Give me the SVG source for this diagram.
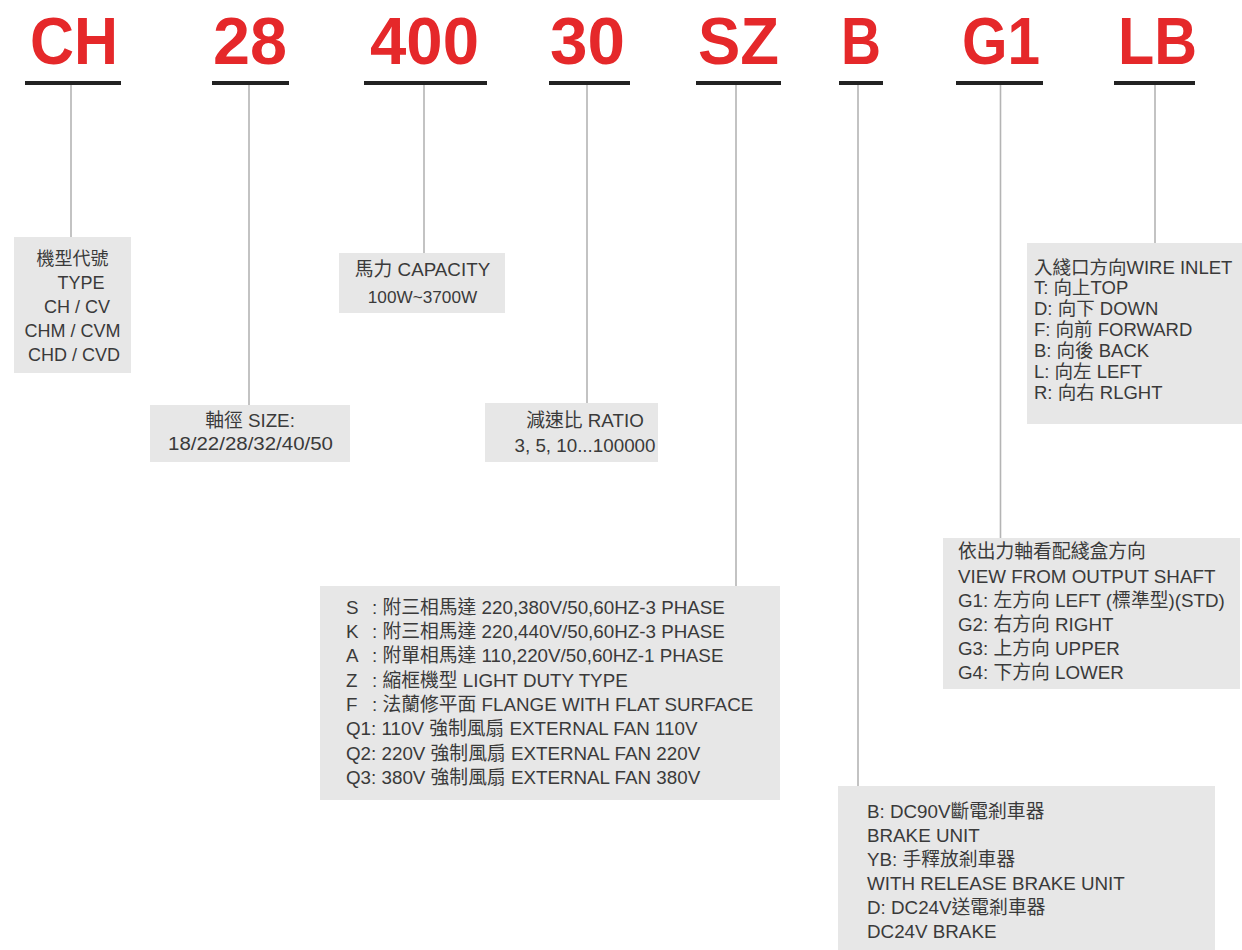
<svg xmlns="http://www.w3.org/2000/svg" width="1242" height="950" viewBox="0 0 1242 950">
<style>
.code{font-family:"Liberation Sans",Arial,sans-serif;font-weight:bold;font-size:67px;fill:#e5282a;text-anchor:middle}
.ul{stroke:#222;stroke-width:4}
.conn line{stroke:#b4b4b4;stroke-width:1.6}
.box{fill:#e7e7e7}
.t{font-family:"Liberation Sans",Arial,"Noto Sans CJK TC",sans-serif;font-size:18.8px;fill:#3a3a3a}
.s18{font-size:18px}
.s185{font-size:18.5px}
.c{text-anchor:middle}
</style>
<rect width="1242" height="950" fill="#fff"/>
<g id="header">
<text class="code" x="74" y="64" textLength="88" lengthAdjust="spacingAndGlyphs">CH</text>
<text class="code" x="250" y="64" textLength="74" lengthAdjust="spacingAndGlyphs">28</text>
<text class="code" x="424.5" y="64" textLength="109" lengthAdjust="spacingAndGlyphs">400</text>
<text class="code" x="587.5" y="64" textLength="75" lengthAdjust="spacingAndGlyphs">30</text>
<text class="code" x="738.5" y="64" textLength="81" lengthAdjust="spacingAndGlyphs">SZ</text>
<text class="code" x="861" y="64" textLength="40" lengthAdjust="spacingAndGlyphs">B</text>
<text class="code" x="1001" y="64" textLength="78" lengthAdjust="spacingAndGlyphs">G1</text>
<text class="code" x="1157.5" y="64" textLength="79" lengthAdjust="spacingAndGlyphs">LB</text>
<line class="ul" x1="25" y1="83" x2="121" y2="83"/>
<line class="ul" x1="212" y1="83" x2="289" y2="83"/>
<line class="ul" x1="364" y1="83" x2="487" y2="83"/>
<line class="ul" x1="549" y1="83" x2="630" y2="83"/>
<line class="ul" x1="696" y1="83" x2="781" y2="83"/>
<line class="ul" x1="839" y1="83" x2="883" y2="83"/>
<line class="ul" x1="956" y1="83" x2="1043" y2="83"/>
<line class="ul" x1="1114" y1="83" x2="1195" y2="83"/>
</g>
<g id="connectors" class="conn">
<line x1="71" y1="85" x2="71" y2="237"/>
<line x1="249" y1="85" x2="249" y2="405"/>
<line x1="424" y1="85" x2="424" y2="253"/>
<line x1="587" y1="85" x2="587" y2="403"/>
<line x1="736" y1="85" x2="736" y2="586"/>
<line x1="858" y1="85" x2="858" y2="786"/>
<line x1="1000.5" y1="85" x2="1000.5" y2="538"/>
<line x1="1155" y1="85" x2="1155" y2="243"/>
</g>
<g id="type">
<rect class="box" x="14" y="237" width="117" height="136"/>
<text class="t s18 c" x="72.5" y="265">機型代號</text>
<text class="t s18 c" x="81" y="289">TYPE</text>
<text class="t s18 c" x="77" y="313">CH / CV</text>
<text class="t s18 c" x="72.5" y="337">CHM / CVM</text>
<text class="t s18 c" x="74" y="361">CHD / CVD</text>
</g>
<g id="size">
<rect class="box" x="150" y="405" width="200" height="57"/>
<text class="t c" x="250" y="427">軸徑 SIZE:</text>
<text class="t c" x="250.5" y="450" textLength="165" lengthAdjust="spacingAndGlyphs">18/22/28/32/40/50</text>
</g>
<g id="capacity">
<rect class="box" x="339" y="253" width="166" height="60"/>
<text class="t c" x="422.5" y="276">馬力 CAPACITY</text>
<text class="t c" x="422.5" y="303" style="font-size:17.2px">100W~3700W</text>
</g>
<g id="ratio">
<rect class="box" x="485" y="403" width="173" height="59"/>
<text class="t c" x="585" y="427">減速比 RATIO</text>
<text class="t c" x="585" y="452">3, 5, 10...100000</text>
</g>
<g id="motor">
<rect class="box" x="320" y="586" width="460" height="214"/>
<text class="t" x="346" y="614">S</text><text class="t" x="372" y="614">: 附三相馬達 220,380V/50,60HZ-3 PHASE</text>
<text class="t" x="346" y="638">K</text><text class="t" x="372" y="638">: 附三相馬達 220,440V/50,60HZ-3 PHASE</text>
<text class="t" x="346" y="662">A</text><text class="t" x="372" y="662">: 附單相馬達 110,220V/50,60HZ-1 PHASE</text>
<text class="t" x="346" y="687">Z</text><text class="t" x="372" y="687">: 縮框機型 LIGHT DUTY TYPE</text>
<text class="t" x="346" y="711">F</text><text class="t" x="372" y="711">: 法蘭修平面 FLANGE WITH FLAT SURFACE</text>
<text class="t" x="346" y="735">Q1: 110V 強制風扇 EXTERNAL FAN 110V</text>
<text class="t" x="346" y="760">Q2: 220V 強制風扇 EXTERNAL FAN 220V</text>
<text class="t" x="346" y="784">Q3: 380V 強制風扇 EXTERNAL FAN 380V</text>
</g>
<g id="brake">
<rect class="box" x="838" y="786" width="377" height="164"/>
<text class="t" x="867" y="818">B: DC90V斷電剎車器</text>
<text class="t" x="867" y="842">BRAKE UNIT</text>
<text class="t" x="867" y="866">YB: 手釋放剎車器</text>
<text class="t" x="867" y="890">WITH RELEASE BRAKE UNIT</text>
<text class="t" x="867" y="914">D: DC24V送電剎車器</text>
<text class="t" x="867" y="938">DC24V BRAKE</text>
</g>
<g id="gearbox">
<rect class="box" x="943" y="538" width="297" height="151"/>
<text class="t" x="958" y="558">依出力軸看配綫盒方向</text>
<text class="t" x="958" y="583">VIEW FROM OUTPUT SHAFT</text>
<text class="t" x="958" y="607">G1: 左方向 LEFT (標準型)(STD)</text>
<text class="t" x="958" y="631">G2: 右方向 RIGHT</text>
<text class="t" x="958" y="655">G3: 上方向 UPPER</text>
<text class="t" x="958" y="679">G4: 下方向 LOWER</text>
</g>
<g id="inlet">
<rect class="box" x="1027" y="243" width="215" height="181"/>
<text class="t s185" x="1034" y="274">入綫口方向WIRE INLET</text>
<text class="t s185" x="1034" y="294">T: 向上TOP</text>
<text class="t s185" x="1034" y="315">D: 向下 DOWN</text>
<text class="t s185" x="1034" y="336">F: 向前 FORWARD</text>
<text class="t s185" x="1034" y="357">B: 向後 BACK</text>
<text class="t s185" x="1034" y="378">L: 向左 LEFT</text>
<text class="t s185" x="1034" y="399">R: 向右 RLGHT</text>
</g>
</svg>
